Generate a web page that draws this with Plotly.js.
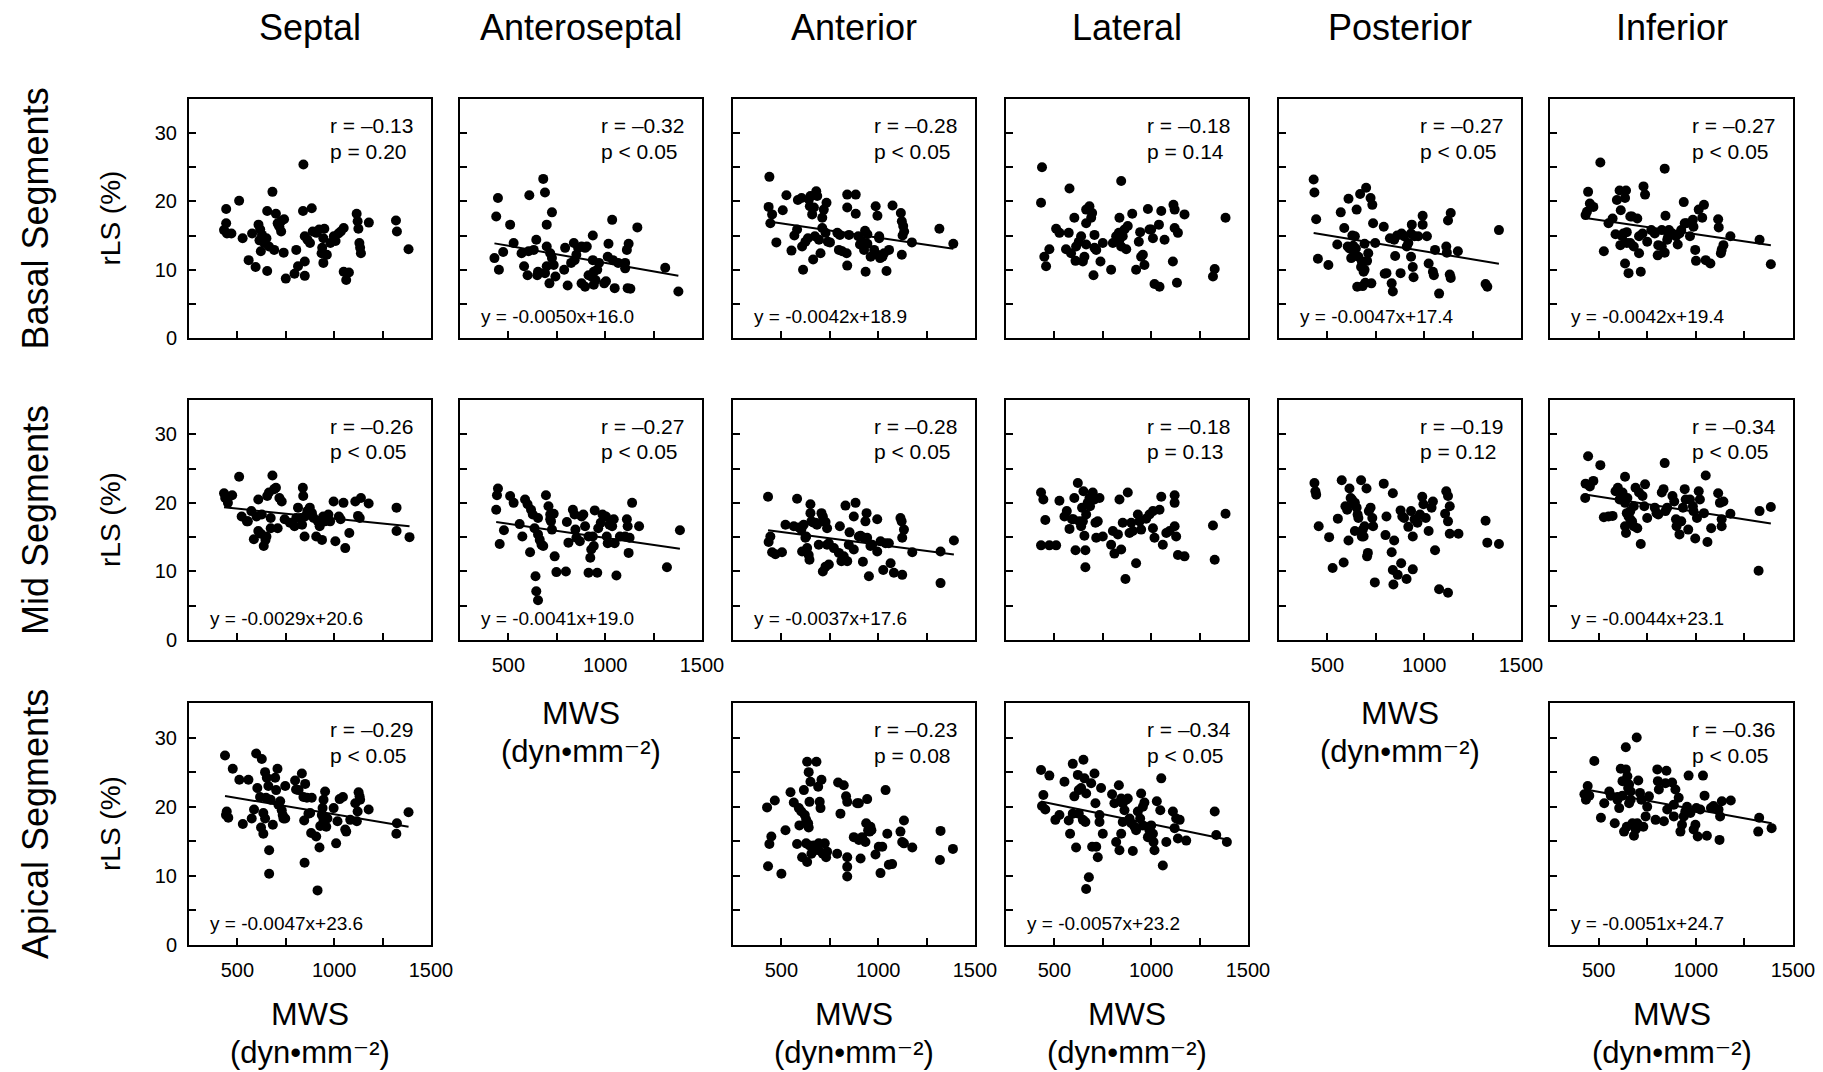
<!DOCTYPE html>
<html><head><meta charset="utf-8">
<script src="https://cdn.plot.ly/plotly-3.0.1.min.js"></script>
<style>html,body{margin:0;padding:0;background:#fff}</style>
</head><body><div id="chart" style="width:1823px;height:1072px"></div>
<script>
// ---------- DATA ----------
const columnTitles = ['Septal','Anteroseptal','Anterior','Lateral','Posterior','Inferior'];
const rowTitles = ['Basal Segments','Mid Segments','Apical Segments'];
const yAxisLabel = 'rLS (%)';
const xAxisLabel1 = 'MWS';
const xAxisLabel2 = '(dyn•mm⁻²)';
const yTickVals = [0,10,20,30];
const yMinorTickVals = [5,15,25];
const xTickVals = [500,1000,1500];
const xMinorTickVals = [750,1250];

const septalBasalX = [442,509,442,431,446,469,527,558,594,654,576,609,618,627,632,639,650,614,621,654,681,663,690,699,708,717,726,741,726,712,739,750,795,804,813,841,839,848,848,848,862,884,875,889,908,922,938,944,935,944,949,962,980,998,1007,1022,1034,1049,1049,1062,1076,1116,1121,1125,1130,1134,1138,1179,1319,1324,1384];
const septalBasalY = [18.9,20.1,16.8,15.8,15.3,15.3,14.6,11.4,10.4,9.8,15.3,16.6,15.9,15.1,14.4,13.9,14.6,14.3,12.7,18.6,21.4,13.4,12.9,18.2,16.8,16.3,15.6,17.4,17.1,16.6,12.5,8.7,9.4,12.9,10.5,25.4,18.6,14.9,11.2,9.1,14.4,19.0,13.9,15.6,15.4,15.9,13.2,14.6,12.4,11.0,16.0,12.2,13.9,14.9,14.2,15.3,15.6,16.1,9.7,8.5,9.6,18.2,17.1,16.0,13.9,13.2,12.4,16.9,17.2,15.6,13.0];

const anteroseptalBasalX = [446,437,428,451,473,509,527,568,581,599,608,604,631,644,649,680,689,698,698,653,689,698,712,716,725,734,743,725,793,788,806,838,851,860,878,896,905,824,842,936,936,928,941,959,950,941,968,995,1004,1013,1017,1036,1040,1049,1067,1103,1103,1112,1121,1116,1130,1166,1310,1378,878,896,914];
const anteroseptalBasalY = [20.5,17.8,11.7,10.0,12.6,16.6,13.9,12.4,10.5,9.2,20.9,12.7,12.9,14.4,9.2,23.3,21.3,16.6,13.4,9.7,9.5,10.5,8.0,12.4,18.4,10.7,9.0,11.7,13.2,10.0,7.7,13.9,12.2,13.2,13.4,13.2,13.4,11.0,11.4,15.0,11.4,9.0,9.7,10.0,8.5,7.8,11.0,8.0,8.3,11.9,13.8,17.3,11.4,7.3,11.0,10.2,11.0,12.9,13.8,7.3,7.2,16.2,10.3,6.8,8.0,7.5,9.2];

const anteriorBasalX = [438,434,452,443,474,507,526,552,567,581,585,604,612,607,624,637,642,650,647,659,668,673,680,685,694,702,664,711,719,733,728,740,751,711,802,797,814,837,840,840,849,840,884,884,897,906,918,927,935,932,944,961,979,987,996,1005,996,1010,1022,1030,1043,1056,1074,1117,1122,1129,1126,1134,1122,1174,1316,1388,944,1005,789];
const anteriorBasalY = [23.6,19.2,18.1,16.8,14.0,18.7,20.9,12.8,15.0,15.9,20.2,20.5,10.0,13.4,14.1,14.6,20.3,20.8,19.3,18.1,19.1,14.9,21.5,20.8,14.4,12.4,11.5,17.6,18.8,19.8,15.4,14.1,14.0,16.1,15.1,12.9,12.7,12.4,10.6,19.1,15.1,21.0,21.0,18.2,14.9,13.7,14.1,12.9,9.7,15.7,13.8,11.9,12.9,19.3,17.9,14.9,12.2,11.7,11.9,12.4,9.8,12.9,19.4,18.3,17.1,16.4,15.0,15.6,12.2,14.0,16.0,13.8,15.2,14.6,15.4];

const lateralBasalX = [436,431,448,457,474,509,526,560,578,574,603,612,609,626,638,647,655,664,664,681,690,695,707,707,702,716,738,750,793,802,819,833,836,845,845,853,871,879,902,922,936,943,948,957,965,983,991,1000,1009,1017,1043,1040,1052,1069,1112,1115,1121,1121,1133,1138,1172,1328,1319,1384,862,664,836,586];
const lateralBasalY = [25.0,19.8,11.9,10.5,13.0,16.0,15.4,13.0,21.9,15.4,17.6,13.4,11.3,14.1,14.9,11.2,11.9,13.7,18.8,19.3,17.6,18.3,15.1,13.2,9.2,12.9,11.2,13.9,10.0,13.9,14.9,15.4,17.6,23.0,13.4,14.9,13.0,16.4,18.2,10.0,14.1,15.5,11.9,12.2,10.7,18.9,15.9,15.9,14.6,7.9,7.5,16.6,18.6,14.4,11.2,19.5,18.8,16.1,8.1,15.4,18.1,10.1,9.0,17.6,15.9,16.8,14.4,12.4];

const posteriorBasalX = [429,433,442,451,505,551,569,587,609,605,623,629,638,642,651,647,654,660,669,674,682,687,692,700,696,705,711,723,727,732,736,747,791,805,796,832,838,845,850,860,878,883,896,918,932,932,936,941,945,950,969,992,992,1014,1023,1045,1050,1056,1077,1114,1117,1123,1132,1137,1137,1174,1317,1326,1386,614,633,678,692,823,910];
const posteriorBasalY = [23.2,21.3,17.4,11.6,10.7,13.7,18.4,16.1,20.4,13.4,11.7,15.0,12.6,14.9,18.8,13.1,7.5,11.9,21.1,10.4,7.6,9.7,13.8,22.0,8.1,11.3,12.4,20.5,8.0,19.5,16.8,13.9,16.3,9.5,9.4,8.0,6.8,14.4,12.0,15.0,9.5,15.3,14.9,13.9,15.3,11.9,16.6,10.4,8.9,14.9,14.9,17.9,16.6,14.9,10.9,9.7,9.2,12.9,6.5,13.4,12.5,17.2,9.3,18.3,8.8,12.7,7.9,7.5,15.8,13.1,13.5,11.2,10.0,14.6,13.4];

const inferiorBasalX = [509,446,433,440,455,473,527,551,572,587,594,608,641,636,614,612,621,636,654,645,645,663,672,681,699,708,717,708,726,731,739,750,789,804,807,825,840,844,840,853,858,862,880,898,907,916,925,938,943,952,970,985,988,997,1001,1015,1033,1042,1051,1075,1115,1118,1129,1142,1133,1178,1328,1386,627,663,771,825];
const inferiorBasalY = [25.7,21.4,18.0,18.5,19.7,19.2,12.7,16.8,17.5,15.2,20.2,21.6,21.6,20.5,18.7,13.6,14.9,10.9,9.5,13.9,15.5,17.8,17.8,13.4,17.5,12.4,9.7,14.9,15.3,22.2,21.0,14.1,15.3,12.1,13.6,15.8,24.8,17.9,12.5,14.4,14.9,15.8,15.3,14.9,13.7,15.3,15.8,19.9,16.8,16.8,14.9,17.3,16.3,12.9,11.3,18.8,17.6,19.5,11.4,10.9,17.4,16.2,12.4,13.6,12.9,14.9,14.4,10.8,15.3,13.9,15.8,13.4];

const septalMidX = [431,437,451,473,509,522,549,572,585,599,608,608,626,621,636,645,650,654,663,672,681,672,690,699,708,717,729,744,795,804,813,825,838,840,834,847,849,861,874,885,894,907,916,925,937,943,952,961,970,979,997,1006,1024,1033,1048,1057,1078,1109,1123,1132,1138,1178,1322,1322,1389,554,771];
const septalMidY = [21.4,20.7,20.0,21.1,23.8,18.0,17.3,18.8,14.7,18.0,20.5,15.9,18.3,15.5,13.7,14.6,15.1,21.0,21.5,17.8,24.0,16.3,22.0,22.2,16.3,20.7,20.2,17.6,16.6,17.8,19.3,17.8,22.2,21.0,16.8,15.1,18.0,18.8,19.3,18.5,17.8,15.1,17.3,16.6,14.6,18.0,17.3,17.8,18.3,17.3,20.2,14.4,18.0,17.6,20.0,13.4,15.6,20.2,18.1,17.8,20.7,19.9,19.3,15.9,15.0,17.3,17.1];

const anteroseptalMidX = [446,441,437,455,477,509,527,558,572,586,599,612,617,626,635,640,644,653,653,653,662,671,680,694,707,716,720,725,734,739,748,797,802,810,833,842,846,851,869,878,887,896,914,923,928,936,941,946,959,964,977,986,1004,1008,1013,1022,1036,1044,1049,1058,1076,1103,1112,1116,1121,1126,1139,1175,1319,1386,716,914];
const anteroseptalMidY = [22.1,21.1,19.0,14.0,16.0,21.0,20.0,16.9,15.1,20.5,19.8,12.8,19.0,18.3,16.3,9.3,7.1,5.8,17.8,15.4,14.6,13.9,13.7,21.1,19.5,18.3,17.3,16.1,18.4,12.2,9.9,10.0,17.2,14.2,19.0,18.3,16.1,14.9,14.4,18.0,18.3,16.6,9.8,12.0,13.2,15.1,13.7,18.9,9.8,16.3,17.1,18.3,18.0,15.1,14.1,16.8,16.6,17.6,14.1,9.4,15.1,15.1,17.6,16.6,12.7,14.9,20.0,16.6,10.6,16.0,17.6,15.1];

const anteriorMidX = [431,443,434,452,469,503,521,564,581,590,603,607,615,628,633,641,645,650,650,655,667,684,693,707,714,719,728,736,714,728,745,736,745,771,797,802,810,822,831,840,848,852,874,883,900,909,921,926,934,940,952,943,960,969,995,995,1012,1026,1038,1055,1064,1081,1115,1121,1124,1133,1124,1176,1322,1322,1391,624,676,874];
const anteriorMidY = [20.9,15.1,14.3,12.8,12.5,12.8,16.8,16.6,20.6,16.4,16.1,12.9,16.8,15.1,13.4,12.4,11.7,19.8,18.5,17.3,17.1,16.8,13.9,18.5,18.0,17.3,17.2,16.3,10.0,10.7,11.0,13.9,14.1,13.4,12.7,16.6,11.5,12.2,19.6,11.5,13.9,15.7,18.0,20.0,15.1,15.2,11.4,14.9,17.3,18.5,9.3,14.9,13.7,13.9,17.6,12.9,14.4,10.2,14.1,14.1,11.2,9.8,17.8,17.3,9.5,16.1,14.9,12.8,12.9,8.3,14.5,14.9,17.1,13.2];

const lateralMidX = [431,443,453,431,474,509,526,552,564,578,591,603,609,621,629,638,643,650,655,660,660,664,672,681,684,698,707,712,724,733,716,750,793,802,810,828,836,845,853,867,879,897,905,922,931,940,948,974,991,1009,1009,1017,1043,1052,1060,1078,1095,1121,1121,1121,1129,1138,1172,1319,1328,1384,598,647,888];
const lateralMidY = [21.5,20.5,17.5,13.8,13.8,13.8,20.3,18.0,18.8,16.2,17.6,20.7,13.1,22.9,17.3,16.6,19.3,21.7,15.2,13.1,10.6,18.3,20.0,20.7,19.5,21.5,20.5,17.1,17.3,20.7,14.9,15.1,13.9,15.9,12.6,15.4,20.5,13.2,17.1,8.9,21.5,17.1,15.9,11.2,18.3,17.3,16.1,17.7,18.3,18.8,16.3,14.9,19.0,20.9,13.9,15.6,15.9,21.1,20.0,16.6,15.1,12.4,12.2,16.7,11.7,18.4,17.6,17.3,15.6];

const posteriorMidX = [433,438,442,455,509,527,554,574,584,593,602,609,614,620,627,636,642,651,656,660,674,683,687,692,702,705,709,714,723,732,736,745,791,800,805,832,838,845,838,841,863,878,881,896,909,918,932,941,941,950,965,978,990,996,1008,1023,1038,1045,1056,1077,1108,1114,1123,1123,1132,1132,1177,1317,1326,1386,642,678,887,1123];
const posteriorMidY = [22.9,21.7,21.2,16.6,15.0,10.5,17.7,23.3,11.3,19.5,19.0,14.5,22.1,20.7,20.5,19.8,20.0,19.3,18.3,17.8,23.3,16.1,15.1,16.6,22.1,12.2,12.7,18.8,19.3,17.8,16.6,8.4,22.8,15.3,18.0,12.8,21.4,14.5,10.2,8.1,9.5,18.9,11.2,17.8,8.9,16.5,18.8,15.1,10.3,17.6,17.1,18.3,20.9,19.8,17.8,15.9,19.3,20.2,13.1,7.4,18.4,21.7,21.0,17.3,19.5,15.5,15.5,17.4,14.2,14.0,15.9,15.1,18.0,6.9];

const inferiorMidX = [446,509,433,455,473,431,527,551,572,587,599,636,608,623,636,648,645,654,663,636,641,672,681,690,699,708,717,726,735,739,750,789,798,807,825,834,840,844,853,880,889,901,916,925,934,943,948,961,970,985,997,1006,1015,1021,1042,1051,1060,1079,1115,1124,1133,1142,1133,1178,1323,1328,1386,663,681,898,988];
const inferiorMidY = [26.8,25.5,22.8,22.4,23.2,20.7,17.9,18.0,18.1,21.7,22.2,23.8,20.5,21.5,20.0,20.7,18.5,18.0,18.8,16.6,15.6,17.3,19.5,22.2,16.3,21.5,14.0,21.0,19.5,22.7,17.8,19.3,18.5,18.3,21.5,22.0,25.8,18.8,19.3,21.0,20.2,16.6,15.4,17.3,19.3,22.0,20.5,16.1,20.5,19.5,14.8,17.8,21.7,20.5,18.5,24.0,14.3,16.3,21.4,20.0,16.6,20.2,17.6,18.4,10.1,18.8,19.4,17.6,16.6,17.6,18.8];

const septalApicalX = [436,445,453,441,476,510,528,557,574,597,603,586,617,626,622,634,643,648,643,652,660,664,664,672,683,695,700,707,712,721,729,734,738,747,747,798,803,816,833,841,850,845,847,859,867,884,881,907,914,924,928,936,940,945,953,959,965,997,1010,1017,1028,1045,1057,1062,1083,1109,1117,1121,1126,1131,1134,1178,1324,1321,1384,634,945,876];
const septalApicalY = [27.4,19.3,18.4,18.8,25.5,23.9,17.5,23.9,18.3,27.7,22.7,19.6,21.4,26.9,17.0,16.1,25.0,21.3,18.3,24.2,23.0,13.7,10.3,21.0,17.4,24.2,22.4,25.5,20.3,20.8,19.5,18.8,18.3,23.0,18.3,23.8,22.5,22.4,24.8,21.4,23.3,18.0,11.9,21.3,19.0,21.3,16.2,15.7,7.9,14.1,17.2,18.8,19.8,21.0,22.2,17.1,18.3,19.8,14.7,17.9,21.1,21.4,16.7,16.4,18.1,20.5,17.9,19.3,22.1,21.5,21.0,19.6,17.6,16.1,19.2,19.1,18.1,19.1];

const anteriorApicalX = [426,438,448,431,466,500,521,547,564,581,590,593,603,607,616,621,628,633,633,641,645,638,641,650,645,655,667,672,681,690,693,698,702,707,714,724,731,736,788,793,805,822,834,840,840,840,840,874,891,900,909,917,934,938,943,948,955,960,965,986,1003,1012,1021,1038,1047,1055,1072,1115,1124,1133,1133,1176,1319,1322,1386,900,693,628];
const anteriorApicalY = [19.9,14.6,15.7,11.4,20.9,10.3,16.6,22.1,20.6,14.6,19.8,17.3,19.3,12.7,22.4,18.8,18.1,12.0,26.5,25.0,20.7,17.6,17.0,23.6,14.4,13.2,14.4,13.7,26.5,22.9,13.7,20.7,19.8,23.9,13.2,14.7,12.7,13.5,13.2,23.5,19.0,23.1,21.5,20.7,12.7,11.3,9.9,15.6,20.5,20.5,12.5,15.6,14.9,17.6,21.1,16.6,16.4,17.1,16.6,13.1,14.2,10.4,14.2,22.4,16.1,11.6,11.7,16.4,14.9,18.0,14.7,14.1,12.3,16.5,13.9,15.2,14.7,14.7];

const lateralApicalX = [431,474,443,436,453,505,526,552,574,581,595,603,612,621,626,626,638,647,650,655,660,664,678,664,690,695,707,712,716,724,733,741,750,798,810,819,833,836,845,845,853,862,871,879,888,897,905,914,922,931,943,948,957,965,957,991,1000,1009,1012,1017,1029,1047,1052,1060,1078,1112,1121,1129,1138,1147,1181,1328,1336,1391,983,733,853,595];
const lateralApicalY = [25.3,24.5,21.7,20.1,19.6,18.1,18.8,23.6,18.0,16.1,26.2,21.5,14.1,24.6,22.4,19.0,22.7,18.1,26.8,24.1,17.8,21.9,9.8,8.1,23.4,14.2,24.8,20.5,14.2,12.7,17.8,22.7,16.1,21.8,20.5,14.9,23.1,13.7,16.1,21.2,20.5,19.5,21.0,21.2,18.3,17.6,13.6,17.1,16.6,19.3,18.3,21.9,20.0,20.6,17.3,16.6,17.3,16.1,14.9,13.7,20.8,19.5,24.1,11.5,14.9,19.3,16.9,18.3,15.4,18.1,15.1,19.3,15.9,14.9,15.6,18.8,17.8,19.0];

const inferiorApicalX = [478,696,640,444,427,435,452,512,529,555,563,583,597,597,606,614,623,631,623,640,645,648,652,657,657,665,674,682,691,699,704,713,720,730,742,750,759,793,802,805,810,836,844,849,853,878,887,895,912,921,929,938,946,955,963,972,989,998,1003,1010,1023,1037,1045,1057,1078,1091,1117,1125,1122,1134,1180,1326,1321,1390,887,665];
const inferiorApicalY = [26.6,30.0,28.6,23.0,21.8,21.0,21.6,18.4,20.5,22.2,21.6,17.6,21.4,21.0,19.8,25.5,21.6,16.4,23.7,25.4,17.1,24.4,22.7,23.2,20.5,22.2,17.6,15.8,16.7,17.6,23.8,22.0,21.0,17.1,18.6,20.0,21.5,18.1,25.4,23.7,22.5,17.9,23.4,25.2,19.6,23.5,20.3,22.5,21.3,16.4,17.4,18.6,19.3,20.0,24.5,19.1,16.7,17.4,19.8,15.7,19.6,24.5,21.6,15.8,19.8,20.1,19.6,18.6,15.2,20.8,20.9,18.4,16.4,16.9,18.6,21.0];

// per-panel statistics (panel order below)
const rTexts = ['r = –0.13','r = –0.32','r = –0.28','r = –0.18','r = –0.27','r = –0.27',
                'r = –0.26','r = –0.27','r = –0.28','r = –0.18','r = –0.19','r = –0.34',
                'r = –0.29','r = –0.23','r = –0.34','r = –0.36'];
const pTexts = ['p = 0.20','p < 0.05','p < 0.05','p = 0.14','p < 0.05','p < 0.05',
                'p < 0.05','p < 0.05','p < 0.05','p = 0.13','p = 0.12','p < 0.05',
                'p < 0.05','p = 0.08','p < 0.05','p < 0.05'];
const slopes =     [null,-0.0050,-0.0042,null,-0.0047,-0.0042,
                    -0.0029,-0.0041,-0.0037,null,null,-0.0044,
                    -0.0047,null,-0.0057,-0.0051];
const intercepts = [null,16.0,18.9,null,17.4,19.4,
                    20.6,19.0,17.6,null,null,23.1,
                    23.6,null,23.2,24.7];

// ---------- LAYOUT GEOMETRY ----------
const W = 1823, H = 1072;
const colBox = [[189,431],[460,702],[733,975],[1006,1248],[1279,1521],[1550,1793]];
const rowBox = [[99,338],[400,640],[703,945]];
const panels = [
  {r:0,c:0,x:septalBasalX,y:septalBasalY},
  {r:0,c:1,x:anteroseptalBasalX,y:anteroseptalBasalY},
  {r:0,c:2,x:anteriorBasalX,y:anteriorBasalY},
  {r:0,c:3,x:lateralBasalX,y:lateralBasalY},
  {r:0,c:4,x:posteriorBasalX,y:posteriorBasalY},
  {r:0,c:5,x:inferiorBasalX,y:inferiorBasalY},
  {r:1,c:0,x:septalMidX,y:septalMidY},
  {r:1,c:1,x:anteroseptalMidX,y:anteroseptalMidY,xl:true},
  {r:1,c:2,x:anteriorMidX,y:anteriorMidY},
  {r:1,c:3,x:lateralMidX,y:lateralMidY},
  {r:1,c:4,x:posteriorMidX,y:posteriorMidY,xl:true},
  {r:1,c:5,x:inferiorMidX,y:inferiorMidY},
  {r:2,c:0,x:septalApicalX,y:septalApicalY,xl:true},
  {r:2,c:2,x:anteriorApicalX,y:anteriorApicalY,xl:true},
  {r:2,c:3,x:lateralApicalX,y:lateralApicalY,xl:true},
  {r:2,c:5,x:inferiorApicalX,y:inferiorApicalY,xl:true}
];

const FONT = 'Liberation Sans, Arial, DejaVu Sans, sans-serif';
const px = v => v / W, py = v => 1 - v / H;
const traces = [], annotations = [];
const layout = {
  width: W, height: H, margin: {l:0,r:0,t:0,b:0},
  paper_bgcolor: 'white', plot_bgcolor: 'white', showlegend: false,
  font: {family: FONT, color: 'black'}
};

panels.forEach((p, i) => {
  const n = i + 1;
  const xa = n === 1 ? 'x' : 'x' + n, ya = n === 1 ? 'y' : 'y' + n;
  const [x0, x1] = colBox[p.c], [y0, y1] = rowBox[p.r];
  const axCommon = {
    showline: true, mirror: true, linecolor: 'black', linewidth: 2,
    ticks: 'inside', ticklen: 7, tickwidth: 2, tickcolor: 'black',
    showgrid: false, zeroline: false, fixedrange: true,
    tickfont: {family: FONT, size: 20, color: 'black'}, ticklabelstandoff: 6
  };
  layout['xaxis' + (n === 1 ? '' : n)] = Object.assign({}, axCommon, {
    domain: [px(x0), px(x1)], anchor: ya, range: [250, 1500],
    tickmode: 'array', tickvals: xTickVals,
    minor: {tickvals: xMinorTickVals, ticks: 'inside', ticklen: 7, tickwidth: 2, tickcolor: 'black', showgrid: false},
    showticklabels: !!p.xl
  });
  layout['yaxis' + (n === 1 ? '' : n)] = Object.assign({}, axCommon, {
    domain: [py(y1), py(y0)], anchor: xa, range: [0, 35],
    tickmode: 'array', tickvals: yTickVals,
    minor: {tickvals: yMinorTickVals, ticks: 'inside', ticklen: 7, tickwidth: 2, tickcolor: 'black', showgrid: false},
    showticklabels: p.c === 0
  });
  traces.push({
    type: 'scatter', mode: 'markers', x: p.x, y: p.y, xaxis: xa, yaxis: ya,
    marker: {size: 10, color: 'black'}, hoverinfo: 'x+y'
  });
  if (slopes[i] !== null) {
    const xmin = Math.min(...p.x), xmax = Math.max(...p.x);
    traces.push({
      type: 'scatter', mode: 'lines', xaxis: xa, yaxis: ya,
      x: [xmin, xmax], y: [slopes[i] * xmin + intercepts[i], slopes[i] * xmax + intercepts[i]],
      line: {color: 'black', width: 2}, hoverinfo: 'skip'
    });
    annotations.push({
      xref: 'paper', yref: 'paper', x: px(x0 + 19), y: py(y1 - 22),
      xanchor: 'left', yanchor: 'middle', showarrow: false,
      text: 'y = ' + slopes[i].toFixed(4) + 'x+' + intercepts[i].toFixed(1),
      font: {family: FONT, size: 19, color: 'black'}
    });
  }
  const tx = x0 + 0.575 * (x1 - x0);
  annotations.push({xref:'paper',yref:'paper',x:px(tx),y:py(y0+26.5),xanchor:'left',yanchor:'middle',
    showarrow:false,text:rTexts[i],font:{family:FONT,size:21,color:'black'}});
  annotations.push({xref:'paper',yref:'paper',x:px(tx),y:py(y0+52),xanchor:'left',yanchor:'middle',
    showarrow:false,text:pTexts[i],font:{family:FONT,size:21,color:'black'}});
  if (p.xl) {
    const cx = (x0 + x1) / 2;
    const base = p.r === 1 ? 713 : 1014;
    annotations.push({xref:'paper',yref:'paper',x:px(cx),y:py(base),xanchor:'center',yanchor:'middle',
      showarrow:false,text:xAxisLabel1,font:{family:FONT,size:32,color:'black'}});
    annotations.push({xref:'paper',yref:'paper',x:px(cx),y:py(base+38),xanchor:'center',yanchor:'middle',
      showarrow:false,text:xAxisLabel2,font:{family:FONT,size:31,color:'black'}});
  }
});

columnTitles.forEach((t, c) => {
  const cx = (colBox[c][0] + colBox[c][1]) / 2;
  annotations.push({xref:'paper',yref:'paper',x:px(cx),y:py(27),xanchor:'center',yanchor:'middle',
    showarrow:false,text:t,font:{family:FONT,size:36,color:'black'}});
});
rowTitles.forEach((t, r) => {
  const cy = (rowBox[r][0] + rowBox[r][1]) / 2;
  annotations.push({xref:'paper',yref:'paper',x:px(35),y:py(cy),xanchor:'center',yanchor:'middle',
    showarrow:false,text:t,textangle:-90,font:{family:FONT,size:36,color:'black'}});
  annotations.push({xref:'paper',yref:'paper',x:px(110),y:py(cy),xanchor:'center',yanchor:'middle',
    showarrow:false,text:yAxisLabel,textangle:-90,font:{family:FONT,size:28,color:'black'}});
});
layout.annotations = annotations;

Plotly.newPlot('chart', traces, layout, {staticPlot: true, displayModeBar: false});
</script>
</body></html>
